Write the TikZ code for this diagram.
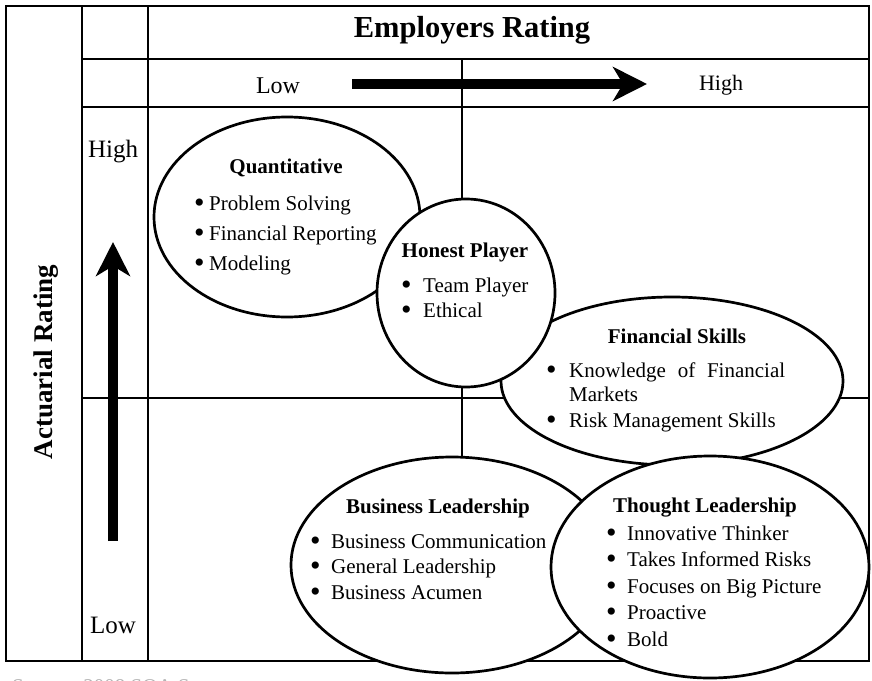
\documentclass[tikz,border=0pt]{standalone}
\usepackage{fontspec}
\setmainfont{Liberation Serif}
\usepackage{tikz}
\usetikzlibrary{arrows.meta,shapes.geometric}

\newcommand{\skilldot}[1]{\makebox[#1][l]{\smash{\raisebox{-2.2pt}{\fontsize{30}{30}\selectfont\textbullet}}}}

\begin{document}
\begin{tikzpicture}[
    x=1pt, y=-1pt,
    every node/.style={inner sep=0pt, font=\fontsize{21}{24}\selectfont},
    grid/.style={line width=2pt},
    skill/.style={
        ellipse,
        draw=black,
        fill=white,
        line width=2.7pt
    },
    heading/.style={anchor=base, font=\fontsize{21}{24}\selectfont\bfseries},
    item/.style={anchor=base west},
    trend/.style={
        -{Stealth[length=34pt, width=34pt, inset=10pt]},
        line width=10pt
    }
]

\useasboundingbox (0,0) rectangle (872,680);

% ==========================================================
% GRID
% ==========================================================

\draw[grid] (6,6) rectangle (869,661);
\draw[grid] (82,6) -- (82,661);
\draw[grid] (148,6) -- (148,661);
\draw[grid] (82,59) -- (869,59);
\draw[grid] (82,107) -- (869,107);
\draw[grid] (82,398) -- (869,398);
\draw[grid] (462,59) -- (462,661);

% ==========================================================
% AXIS LABELS
% ==========================================================

\node[anchor=base, font=\fontsize{30.5}{32}\selectfont\bfseries]
    (employers) at (472,37) {Employers Rating};
\node[anchor=base, rotate=90, font=\fontsize{27}{30}\selectfont\bfseries]
    (actuarial) at (52,362) {Actuarial Rating};

\node[anchor=base, font=\fontsize{24}{26}\selectfont] (colLow) at (278,93) {Low};
\node[anchor=base, font=\fontsize{22}{24}\selectfont] (colHigh) at (721,90) {High};
\node[anchor=base, font=\fontsize{25}{27}\selectfont] (rowHigh) at (113,157) {High};
\node[anchor=base, font=\fontsize{25}{27}\selectfont] (rowLow) at (113,633) {Low};

\coordinate (colStart) at (352,84);
\coordinate (colEnd) at (647,84);
\coordinate (rowStart) at (113,541);
\coordinate (rowEnd) at (113,242);

\draw[trend] (colStart) -- (colEnd);
\draw[trend] (rowStart) -- (rowEnd);

% ==========================================================
% SKILL ELLIPSES
% ==========================================================

\node[skill, minimum width=266pt, minimum height=200pt] (quant) at (287,217) {};
\node[skill, minimum width=342pt, minimum height=168pt] (finance) at (672,381) {};
\node[skill, minimum width=178pt, minimum height=188pt] (honest) at (466,293) {};
\node[skill, minimum width=322pt, minimum height=216pt] (business) at (452,565) {};
\node[skill, minimum width=318pt, minimum height=222pt] (thought) at (710,567) {};

% ==========================================================
% SKILL LISTS
% ==========================================================

\node[heading] (quantTitle) at (286,173) {Quantitative};
\foreach \txt [count=\i from 0] in {Problem Solving, Financial Reporting, Modeling}
    \node[item] (quant\i) at (194,210+30*\i) {\skilldot{15pt}\txt};

\node[heading] (honestTitle) at (465,257) {Honest Player};
\foreach \txt [count=\i from 0] in {Team Player, Ethical}
    \node[item] (honest\i) at (401,292+25*\i) {\skilldot{22pt}\txt};

\node[heading] (financeTitle) at (677,343) {Financial Skills};
\node[item] (finance0) at (546,377)
    {\skilldot{23pt}\parbox[t]{216pt}{\hyphenpenalty=10000
     Knowledge of Financial Markets}};
\node[item] (finance1) at (546,427)
    {\skilldot{23pt}Risk Management Skills};

\node[heading] (businessTitle) at (438,513) {Business Leadership};
\foreach \txt [count=\i from 0] in {Business Communication, General Leadership, Business Acumen}
    \node[item] (business\i) at (310,548+25.5*\i) {\skilldot{21pt}\txt};

\node[heading] (thoughtTitle) at (705,512) {Thought Leadership};
\foreach \txt [count=\i from 0] in {Innovative Thinker, Takes Informed Risks,
        Focuses on Big Picture, Proactive, Bold}
    \node[item] (thought\i) at (606,540+26.5*\i) {\skilldot{21pt}\txt};

% ==========================================================
% SOURCE
% ==========================================================

\node[anchor=base west, text=gray!60] (source) at (12,693) {Source: 2008 SOA Survey};

\end{tikzpicture}
\end{document}
